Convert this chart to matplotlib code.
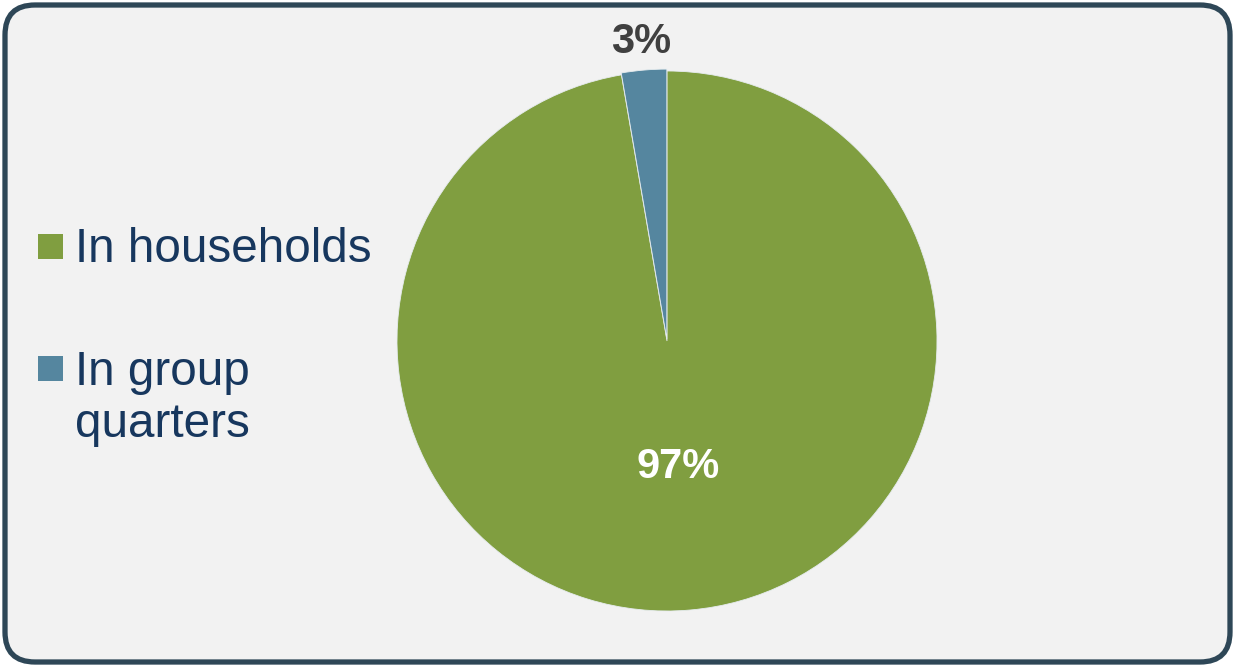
import numpy as np
import matplotlib
matplotlib.use("Agg")
import matplotlib.pyplot as plt
from matplotlib.patches import FancyBboxPatch, Rectangle
from matplotlib.transforms import IdentityTransform

categories = ["In households", "In group\nquarters"]
values = [97.3, 2.7]
colors = ["#809E40", "#55869F"]
label_colors = ["white", "#404040"]
label_radius = [0.47, 1.11]

plt.rcParams['font.family'] = ['Liberation Sans', 'DejaVu Sans']

W, H = 1235, 667
fig = plt.figure(figsize=(W / 100, H / 100), dpi=100)
fig.patch.set_facecolor("white")

# rounded background frame
frame = FancyBboxPatch((5, 5), W - 10, H - 10,
                       boxstyle="round,pad=0,rounding_size=30",
                       transform=IdentityTransform(),
                       facecolor="#F2F2F2", edgecolor="#2E4757", linewidth=3.8,
                       zorder=-10)
fig.patches.append(frame)

cx, cy, r = 667, 341, 270
ax = fig.add_axes([(cx - r) / W, (H - cy - r) / H, 2 * r / W, 2 * r / H])
ax.set_zorder(5)
ax.set_facecolor("none")
wedges, _ = ax.pie(values, colors=colors, startangle=90, counterclock=False,
                   explode=[0, 0.007],
                   wedgeprops=dict(edgecolor="#E6ECEF", linewidth=0.6))
ax.set_xlim(-1, 1)
ax.set_ylim(-1, 1)
ax.set_aspect("equal")
ax.axis("off")

total = sum(values)
for w, v, col, rr in zip(wedges, values, label_colors, label_radius):
    th = np.deg2rad((w.theta1 + w.theta2) / 2)
    ax.text(rr * np.cos(th), rr * np.sin(th), f"{round(100 * v / total)}%",
            ha="center", va="center",
            fontsize=30, fontweight="bold", color=col, clip_on=False)

# legend drawn manually so the swatch lines up with the first line of text
text_color = "#17375E"
sw_x, sw_size = 38, 25
tx = 75
swatch_tops = [234, 356]
baselines = [262, 385]
for cat, col, top, base in zip(categories, colors, swatch_tops, baselines):
    fig.patches.append(Rectangle((sw_x, H - top - sw_size), sw_size, sw_size,
                                 transform=IdentityTransform(),
                                 facecolor=col, edgecolor="none", zorder=1))
    lines = cat.split("\n")
    for i, line in enumerate(lines):
        fig.text(tx / W, (H - base - 52 * i) / H, line, ha="left", va="baseline",
                 fontsize=34.3, color=text_color)

fig.savefig("out.png", dpi=100, facecolor=fig.get_facecolor())
